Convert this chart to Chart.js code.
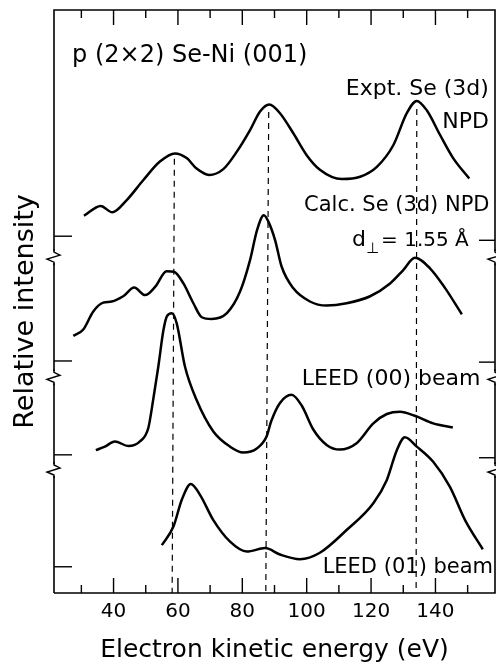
<!DOCTYPE html>
<html><head><meta charset="utf-8">
<script src="https://cdn.jsdelivr.net/npm/chart.js@4/dist/chart.umd.min.js"></script>
<style>html,body{margin:0;padding:0;background:#fff;}#wrap{width:496px;height:665px;position:relative;}</style>
</head><body><div id="wrap"><canvas id="c"></canvas></div>
<script>
// ---- data (energy in eV, intensity in arbitrary offset units) ----
const exptE = [30.8,36.0,39.6,44.1,49.2,54.4,59.1,62.7,65.8,69.7,74.1,78.3,82.4,85.5,88.4,91.7,95.8,100.0,104.1,110.9,116.6,121.8,126.9,131.1,134.2,137.3,141.4,145.5,150.5];
const exptI = [64.7,66.4,65.3,67.4,70.8,74.0,75.4,74.6,72.8,71.7,72.7,75.7,79.4,82.6,83.8,82.3,78.9,75.1,72.6,71.0,71.4,73.1,76.8,82.3,84.4,82.8,78.6,74.6,71.1];
const calcE = [27.5,30.6,33.7,36.8,39.4,43.0,46.4,49.8,52.9,56.5,58.8,61.7,64.8,67.4,70.5,75.2,79.3,82.4,84.6,86.7,88.1,90.2,92.2,95.8,101.0,106.2,112.4,119.7,125.9,130.0,133.6,138.3,143.0,148.2];
const calcI = [44.1,45.2,48.3,49.8,50.0,50.9,52.4,51.1,52.5,55.2,55.1,53.1,49.7,47.3,47.0,48.0,51.7,57.1,62.3,64.8,63.7,60.5,56.0,52.3,50.0,49.3,49.7,50.9,53.1,55.4,57.5,55.7,52.3,47.8];
const leed00E = [34.5,37.3,40.4,44.6,48.2,50.8,52.3,53.9,55.5,56.6,58.1,59.6,62.2,65.8,71.0,76.2,80.3,84.5,87.5,89.0,91.7,95.3,98.4,102.1,106.2,110.3,115.5,120.7,124.9,129.0,133.6,139.3,145.4];
const leed00I = [24.5,25.1,26.0,25.2,26.0,28.3,33.1,38.8,45.1,47.5,48.0,46.3,38.8,33.1,27.7,25.1,24.1,24.8,26.8,29.5,32.6,34.0,32.2,28.0,25.4,24.6,25.7,29.1,30.7,31.1,30.4,29.1,28.4];
const leed01E = [55.0,58.6,61.2,64.0,66.9,71.0,76.2,81.4,87.1,91.7,97.9,104.1,112.4,120.7,124.9,128.0,130.5,134.2,139.3,144.5,149.2,154.7];
const leed01I = [8.2,11.4,16.0,18.7,16.8,12.5,8.8,7.1,7.7,6.6,5.8,6.9,10.8,15.4,19.4,24.5,26.7,25.1,22.5,18.2,12.5,7.5];
// dashed guide lines (top point / bottom point)
const guideTopE = [58.9, 88.2, 134.2];
const guideTopI = [74.5, 82.5, 83.0];
const guideBotE = [58.2, 87.3, 134.0];
const guideBotI = [0, 0, 0];
// axis ticks
const xTickLabels = [40, 60, 80, 100, 120, 140];
const leftTickI = [61.2, 39.8, 23.7, 4.5];
const rightTickI = [60.5, 39.6, 23.2];
const breakI = [57.6, 37.0, 21.1];
// text labels
const labelTexts = ["p (2×2) Se-Ni (001)", "Expt. Se (3d)", "NPD", "Calc. Se (3d) NPD", "LEED (00) beam", "LEED (01) beam"];
const labelE = [27.1, 156.6, 156.6, 156.8, 98.5, 157.9];
const labelI = [91.1, 85.4, 79.8, 65.5, 35.7, 3.4];
const labelAlign = ["left", "right", "right", "right", "left", "right"];
const labelSize = [24, 22, 22, 21, 22, 21];

const FONT = "'DejaVu Sans', sans-serif";
const toXY = (xs, ys) => xs.map((x, i) => ({x: x, y: ys[i]}));
const curveStyle = {borderColor: '#000', borderWidth: 2.5, pointRadius: 0, cubicInterpolationMode: 'monotone', fill: false};
const datasets = [
  Object.assign({label: 'Expt. Se (3d) NPD', data: toXY(exptE, exptI)}, curveStyle),
  Object.assign({label: 'Calc. Se (3d) NPD', data: toXY(calcE, calcI)}, curveStyle),
  Object.assign({label: 'LEED (00) beam', data: toXY(leed00E, leed00I)}, curveStyle),
  Object.assign({label: 'LEED (01) beam', data: toXY(leed01E, leed01I)}, curveStyle)
];
guideTopE.forEach((e, i) => {
  datasets.push({label: 'guide' + i, data: [{x: e, y: guideTopI[i]}, {x: guideBotE[i], y: guideBotI[i]}],
    borderColor: '#000', borderWidth: 1.2, borderDash: [6, 5], pointRadius: 0, tension: 0, fill: false});
});

const framePlugin = {
  id: 'frame',
  afterDraw(chart) {
    const ctx = chart.ctx, a = chart.chartArea, xs = chart.scales.x, ys = chart.scales.y;
    ctx.save();
    ctx.strokeStyle = '#000'; ctx.fillStyle = '#000';
    ctx.lineWidth = 1.6;
    ctx.beginPath();
    ctx.moveTo(a.left, a.bottom); ctx.lineTo(a.left, a.top); ctx.lineTo(a.right, a.top); ctx.lineTo(a.right, a.bottom); ctx.lineTo(a.left, a.bottom);
    ctx.stroke();
    // x ticks inward on top and bottom
    ctx.lineWidth = 1.4;
    xs.ticks.forEach(t => {
      const px = xs.getPixelForValue(t.value);
      const len = (t.value % 20 === 0) ? 15 : 8;
      ctx.beginPath();
      ctx.moveTo(px, a.bottom); ctx.lineTo(px, a.bottom - len);
      ctx.moveTo(px, a.top); ctx.lineTo(px, a.top + len);
      ctx.stroke();
    });
    // x tick labels
    ctx.font = '20px ' + FONT; ctx.textAlign = 'center'; ctx.textBaseline = 'alphabetic';
    xTickLabels.forEach(v => ctx.fillText(String(v), xs.getPixelForValue(v), a.bottom + 24));
    // left / right ticks
    leftTickI.forEach(v => { const py = ys.getPixelForValue(v); ctx.beginPath(); ctx.moveTo(a.left, py); ctx.lineTo(a.left + 18, py); ctx.stroke(); });
    rightTickI.forEach(v => { const py = ys.getPixelForValue(v); ctx.beginPath(); ctx.moveTo(a.right, py); ctx.lineTo(a.right - 16, py); ctx.stroke(); });
    // axis breaks
    breakI.forEach(v => {
      const py = ys.getPixelForValue(v);
      [a.left, a.right].forEach(x0 => {
        ctx.fillStyle = '#fff';
        ctx.fillRect(x0 - 2, py - 6, 4, 12);
        ctx.beginPath();
        ctx.moveTo(x0, py - 8); ctx.lineTo(x0, py - 5); ctx.lineTo(x0 + 6, py - 2); ctx.lineTo(x0 - 7, py + 2); ctx.lineTo(x0, py + 5); ctx.lineTo(x0, py + 8);
        ctx.stroke();
      });
    });
    // text labels
    ctx.fillStyle = '#000';
    ctx.textBaseline = 'alphabetic';
    labelTexts.forEach((t, i) => {
      ctx.font = labelSize[i] + 'px ' + FONT;
      ctx.textAlign = labelAlign[i];
      ctx.fillText(t, xs.getPixelForValue(labelE[i]), ys.getPixelForValue(labelI[i]));
    });
    // d⊥ = 1.55 Å
    let x = xs.getPixelForValue(114.1), y = ys.getPixelForValue(59.5);
    ctx.textAlign = 'left';
    ctx.font = '22px ' + FONT; ctx.fillText('d', x, y); x += ctx.measureText('d').width;
    ctx.font = '15px ' + FONT; ctx.fillText('⊥', x, y + 7); x += ctx.measureText('⊥').width + 2;
    ctx.font = '20px ' + FONT; ctx.fillText('= 1.55 Å', x, y);
    // y title
    ctx.save();
    ctx.translate(33, (a.top + a.bottom) / 2 + 10);
    ctx.rotate(-Math.PI / 2);
    ctx.font = '27px ' + FONT; ctx.textAlign = 'center'; ctx.textBaseline = 'alphabetic';
    ctx.fillText('Relative intensity', 0, 0);
    ctx.restore();
    // x title
    ctx.font = '25px ' + FONT; ctx.textAlign = 'center'; ctx.textBaseline = 'alphabetic';
    ctx.fillText('Electron kinetic energy (eV)', (a.left + a.right) / 2, a.bottom + 64);
    ctx.restore();
  }
};

new Chart(document.getElementById('c'), {
  type: 'line',
  data: {datasets: datasets},
  options: {
    responsive: true, maintainAspectRatio: false, animation: false,
    layout: {padding: {left: 54, top: 10, right: 1, bottom: 72}},
    plugins: {legend: {display: false}, tooltip: {enabled: false}},
    scales: {
      x: {type: 'linear', min: 21.5, max: 158.5, display: false,
        ticks: {stepSize: 10, includeBounds: false}},
      y: {type: 'linear', min: 0, max: 100, display: false}
    }
  },
  plugins: [framePlugin]
});
</script>
</body></html>
